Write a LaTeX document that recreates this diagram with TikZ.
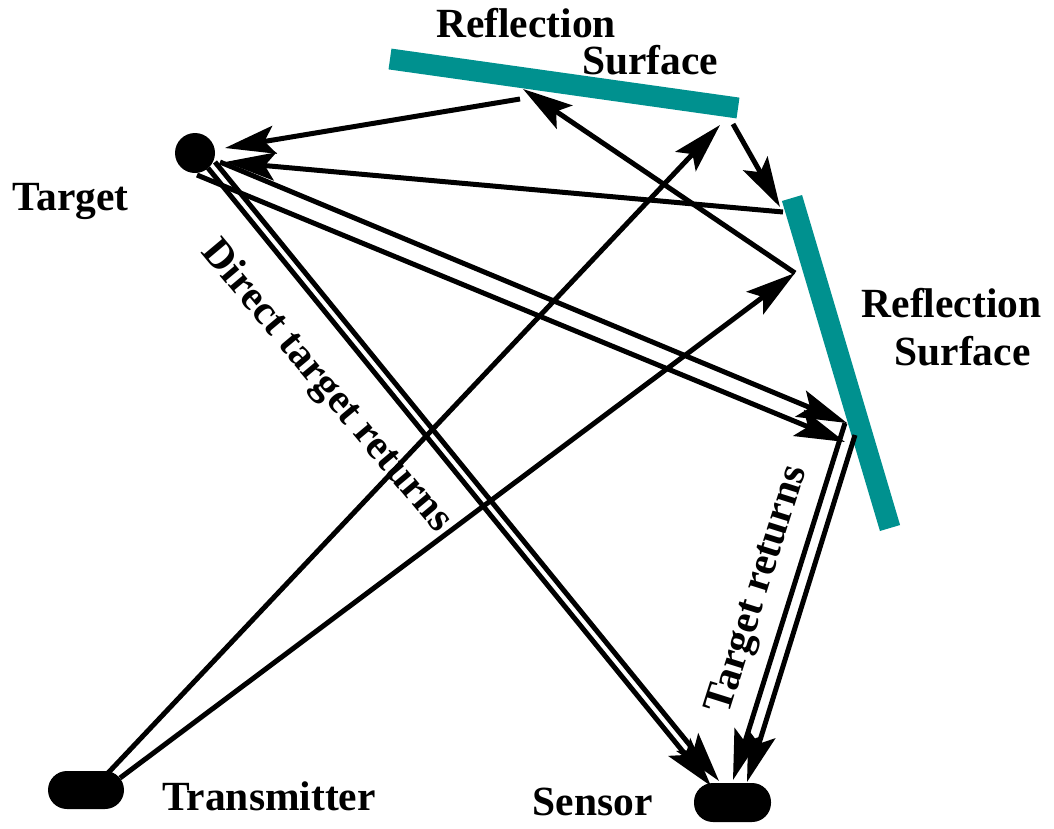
\documentclass[tikz,border=0pt]{standalone}
\usepackage{fontspec}
\setmainfont{Liberation Serif}
\usetikzlibrary{arrows.meta}
\definecolor{surfteal}{RGB}{0,145,143}
\begin{document}
\begin{tikzpicture}[x=1pt,y=-1pt,
		surface/.style={surfteal, line width=21pt},
		ray/.style={black, line width=5pt},
		hit/.style={ray, -{Stealth[length=50pt, width=28pt, inset=10pt]}},
		lbl/.style={font=\fontsize{41.5}{44}\selectfont\bfseries, inner sep=0pt},
		]
		\useasboundingbox (0,0) rectangle (1054,828);
		
		% ── Superfici di riflessione ──
		\draw[surface] (390,59) -- (738,108);
		\draw[surface] (792,198) -- (890,528);
		
		% ── Bersaglio, trasmettitore, sensore ──
		\node[circle, fill=black, minimum size=40pt, inner sep=0pt] (target) at (195,153) {};
		\node[rectangle, rounded corners=19pt, fill=black, minimum width=76pt,
		minimum height=38pt] (tx) at (86,790) {};
		\node[rectangle, rounded corners=19pt, fill=black, minimum width=77pt,
		minimum height=39pt] (sens) at (732.5,802.5) {};
		
		% ── Scritte ──
		\node[lbl, anchor=base] (refltop) at (526,37) {Reflection};
		\node[lbl, anchor=base] (surftop) at (650,74) {Surface};
		\node[lbl, anchor=base] (reflrgt) at (951.5,317) {Reflection};
		\node[lbl, anchor=base] (surfrgt) at (962.5,365) {Surface};
		\node[lbl, anchor=base] (tgtlbl) at (70.5,210) {Target};
		\node[lbl, anchor=base] (txlbl) at (269,810) {Transmitter};
		\node[lbl, anchor=base] (senslbl) at (592.5,815) {Sensor};
		\node[lbl, rotate=-50] (direct) at (326,387) {Direct target returns};
		\node[lbl, rotate=72.5] (tret) at (759,590) {Target returns};
		
		% ── Punti di partenza e di arrivo dei raggi ──
		\coordinate (topA) at (520,99);   \coordinate (tgtA) at (225,148);
		\coordinate (rgtB) at (783,212);  \coordinate (tgtB) at (225,162);
		\coordinate (txC)  at (108,773);  \coordinate (topC) at (720,125);
		\coordinate (txD)  at (120,778);  \coordinate (rgtD) at (795,273);
		\coordinate (topE) at (523,89);
		\coordinate (topF) at (733,124);  \coordinate (rgtF) at (780,207);
		\coordinate (tgtG1) at (215,162); \coordinate (sensG1) at (719,781);
		\coordinate (tgtG2) at (208,168); \coordinate (sensG2) at (711,786);
		\coordinate (tgtH1) at (220,162); \coordinate (rgtH1) at (847,423);
		\coordinate (tgtH2) at (197,175); \coordinate (rgtH2) at (845,442);
		\coordinate (rgtI1) at (845,423); \coordinate (sensI1) at (733,780);
		\coordinate (rgtI2) at (855,435); \coordinate (sensI2) at (747,782);
		
		% ── Raggi ──
		\draw[hit] (topA) -- (tgtA);
		\draw[hit] (rgtB) -- (tgtB);
		\draw[hit] (txC) -- (topC);
		\draw[hit] (txD) -- (rgtD);
		\draw[hit] (rgtD) -- (topE);
		\draw[hit] (topF) -- (rgtF);
		% ritorni diretti (doppia linea)
		\draw[hit] (tgtG1) -- (sensG1);
		\draw[hit] (tgtG2) -- (sensG2);
		% ritorni via superficie destra
		\draw[hit] (tgtH1) -- (rgtH1);
		\draw[hit] (tgtH2) -- (rgtH2);
		\draw[hit] (rgtI1) -- (sensI1);
		\draw[hit] (rgtI2) -- (sensI2);
		
	\end{tikzpicture}
\end{document}
